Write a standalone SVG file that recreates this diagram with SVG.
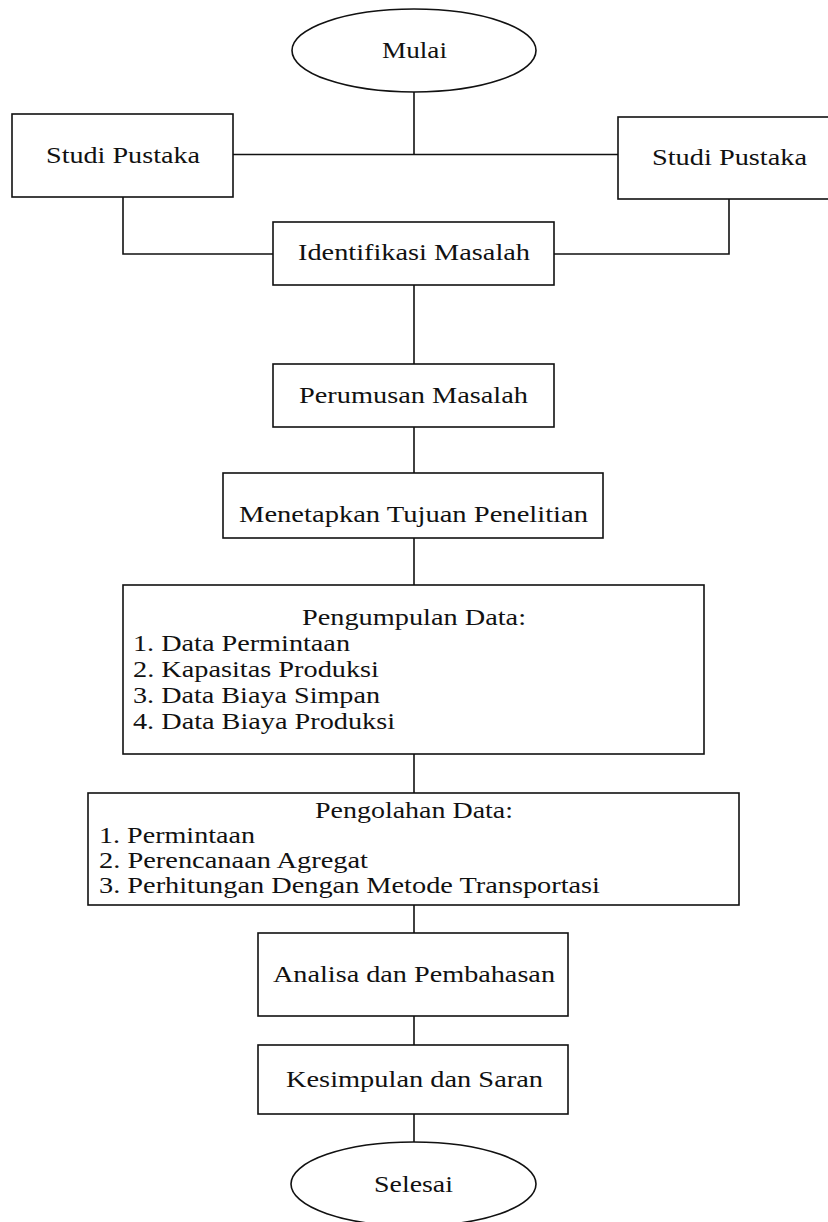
<svg xmlns="http://www.w3.org/2000/svg" width="828" height="1222" viewBox="0 0 828 1222">
<style>
.box{fill:#fff;stroke:#111;stroke-width:1.6}
.ln{fill:none;stroke:#111;stroke-width:1.6}
text{font-family:"Liberation Serif","Times New Roman",serif;font-size:22.5px;fill:#111}
</style>
<rect width="828" height="1222" fill="#fff"/>
<g id="connectors">
<path class="ln" d="M414 92V155"/>
<path class="ln" d="M233 154.5H618"/>
<path class="ln" d="M123 197V254H273"/>
<path class="ln" d="M729 199V254H554"/>
<path class="ln" d="M414 285V364"/>
<path class="ln" d="M414 427V473"/>
<path class="ln" d="M414 538V585"/>
<path class="ln" d="M414 754V793"/>
<path class="ln" d="M414 905V933"/>
<path class="ln" d="M414 1016V1045"/>
<path class="ln" d="M414 1114V1142"/>
</g>
<g id="mulai">
<ellipse class="box" cx="414" cy="50.5" rx="122" ry="41.5"/>
<text x="382" y="58" textLength="65" lengthAdjust="spacingAndGlyphs">Mulai</text>
</g>
<g id="studi-pustaka-left">
<rect class="box" x="12" y="114" width="221" height="83"/>
<text x="46" y="163" textLength="154" lengthAdjust="spacingAndGlyphs">Studi Pustaka</text>
</g>
<g id="studi-pustaka-right">
<rect class="box" x="618" y="117" width="214" height="82"/>
<text x="652" y="165" textLength="155" lengthAdjust="spacingAndGlyphs">Studi Pustaka</text>
</g>
<g id="identifikasi">
<rect class="box" x="273" y="222" width="281" height="63"/>
<text x="298" y="260" textLength="232" lengthAdjust="spacingAndGlyphs">Identifikasi Masalah</text>
</g>
<g id="perumusan">
<rect class="box" x="273" y="364" width="281" height="63"/>
<text x="299" y="403" textLength="229" lengthAdjust="spacingAndGlyphs">Perumusan Masalah</text>
</g>
<g id="tujuan">
<rect class="box" x="223" y="473" width="380" height="65"/>
<text x="239" y="522" textLength="349" lengthAdjust="spacingAndGlyphs">Menetapkan Tujuan Penelitian</text>
</g>
<g id="pengumpulan">
<rect class="box" x="123" y="585" width="581" height="169"/>
<text x="302" y="625" textLength="224" lengthAdjust="spacingAndGlyphs">Pengumpulan Data:</text>
<text x="133" y="651" textLength="217" lengthAdjust="spacingAndGlyphs">1. Data Permintaan</text>
<text x="133" y="677" textLength="246" lengthAdjust="spacingAndGlyphs">2. Kapasitas Produksi</text>
<text x="133" y="703" textLength="247" lengthAdjust="spacingAndGlyphs">3. Data Biaya Simpan</text>
<text x="133" y="729" textLength="262" lengthAdjust="spacingAndGlyphs">4. Data Biaya Produksi</text>
</g>
<g id="pengolahan">
<rect class="box" x="88" y="793" width="651" height="112"/>
<text x="315" y="818" textLength="198" lengthAdjust="spacingAndGlyphs">Pengolahan Data:</text>
<text x="99" y="843" textLength="156" lengthAdjust="spacingAndGlyphs">1. Permintaan</text>
<text x="99" y="868" textLength="269" lengthAdjust="spacingAndGlyphs">2. Perencanaan Agregat</text>
<text x="99" y="893" textLength="501" lengthAdjust="spacingAndGlyphs">3. Perhitungan Dengan Metode Transportasi</text>
</g>
<g id="analisa">
<rect class="box" x="258" y="933" width="310" height="83"/>
<text x="273" y="982" textLength="282" lengthAdjust="spacingAndGlyphs">Analisa dan Pembahasan</text>
</g>
<g id="kesimpulan">
<rect class="box" x="258" y="1045" width="310" height="69"/>
<text x="286" y="1087" textLength="257" lengthAdjust="spacingAndGlyphs">Kesimpulan dan Saran</text>
</g>
<g id="selesai">
<ellipse class="box" cx="413.5" cy="1184" rx="122.5" ry="42"/>
<text x="374" y="1192" textLength="79" lengthAdjust="spacingAndGlyphs">Selesai</text>
</g>
</svg>
